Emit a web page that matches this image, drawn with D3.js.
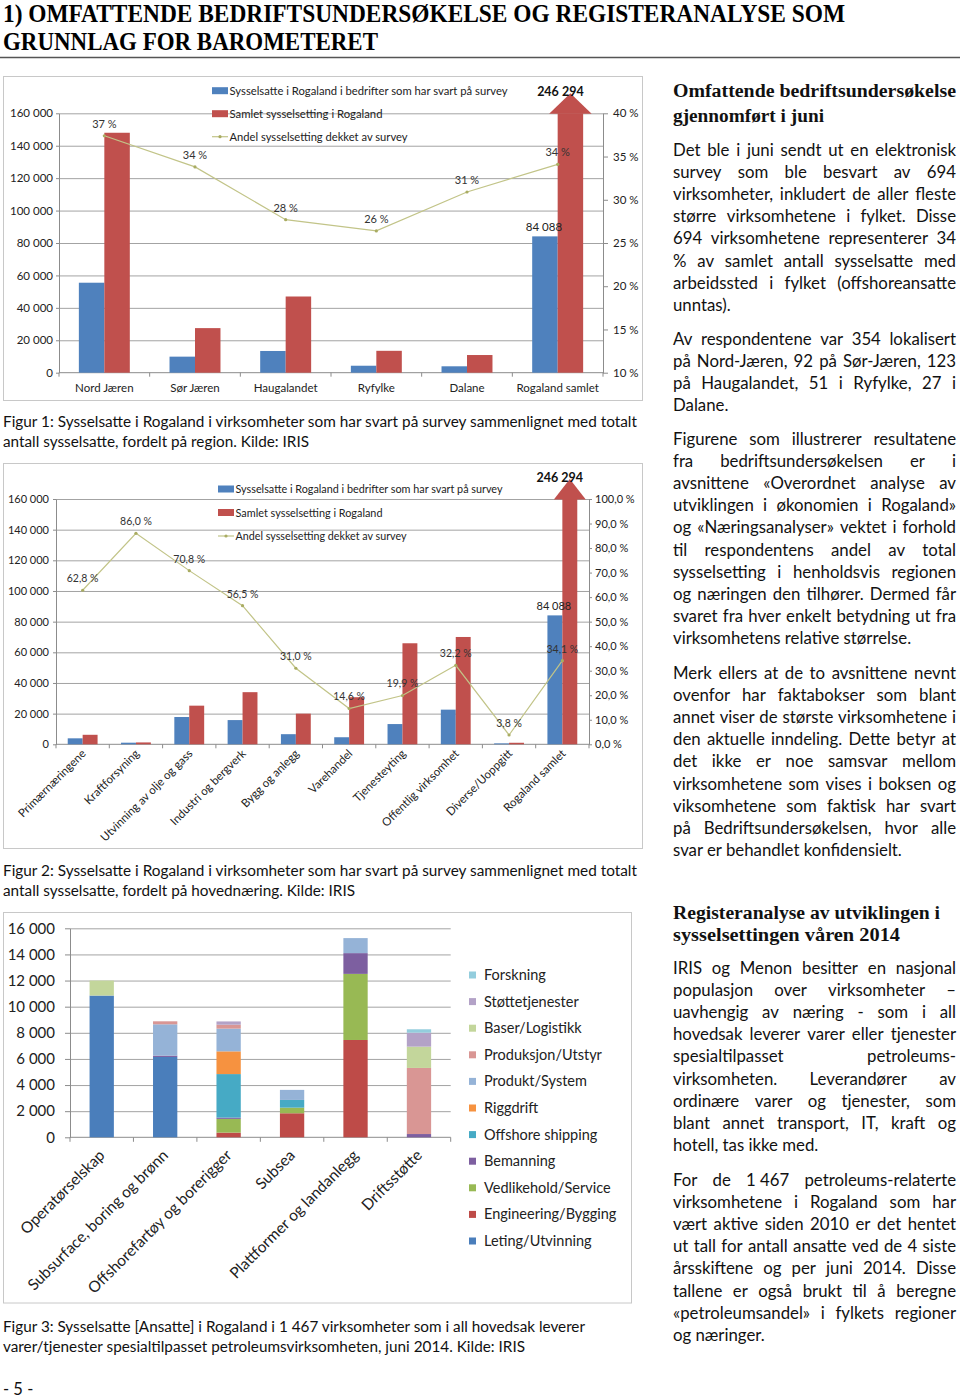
<!DOCTYPE html>
<html><head><meta charset="utf-8">
<script src="https://cdn.jsdelivr.net/npm/d3@7"></script>
<style>body{margin:0;background:#fff}svg{display:block}</style>
</head><body>
<script>
// ---------- DATA ----------
const regions = ["Nord Jæren","Sør Jæren","Haugalandet","Ryfylke","Dalane","Rogaland samlet"];
const regionSurvey = [55500, 9900, 13400, 4300, 3950, 84088];
const regionTotal = [148000, 27500, 47000, 13500, 10900, 246294];
const regionShare = [37.4, 33.8, 27.7, 26.4, 30.9, 34.1];
const regionShareLabels = ["37 %","34 %","28 %","26 %","31 %","34 %"];
const regionLeftTicks = [0,20000,40000,60000,80000,100000,120000,140000,160000];
const regionRightTicks = [10,15,20,25,30,35,40];

const industries = ["Primærnæringene","Kraftforsyning","Utvinning av olje og gass","Industri og bergverk","Bygg og anlegg","Varehandel","Tjenesteyting","Offentlig virksomhet","Diverse/Uoppgitt","Rogaland samlet"];
const industrySurvey = [3900, 1050, 17800, 15800, 6600, 4600, 13200, 22600, 600, 84088];
const industryTotal = [6200, 1220, 25200, 34000, 20000, 30700, 65900, 70000, 1000, 246294];
const industryShare = [62.8, 86.0, 70.8, 56.5, 31.0, 14.6, 19.9, 32.2, 3.8, 34.1];
const industryLeftTicks = [0,20000,40000,60000,80000,100000,120000,140000,160000];
const industryRightTicks = [0,10,20,30,40,50,60,70,80,90,100];

const legendNames = ["Sysselsatte i Rogaland i bedrifter som har svart på survey","Samlet sysselsetting i Rogaland","Andel sysselsetting dekket av survey"];

const petroCats = ["Operatørselskap","Subsurface, boring og brønn","Offshorefartøy og borerigger","Subsea","Plattformer og landanlegg","Driftsstøtte"];
const segments = ["Leting/Utvinning","Engineering/Bygging","Vedlikehold/Service","Bemanning","Offshore shipping","Riggdrift","Produkt/System","Produksjon/Utstyr","Baser/Logistikk","Støttetjenester","Forskning"];
const letingUtvinning    = [10850, 6150,    0,    0,    0,    0];
const engineeringBygging = [    0,    0,  360, 1840, 7450,    0];
const vedlikeholdService = [    0,    0, 1050,  430, 5060,    0];
const bemanning          = [    0,  100,  100,    0, 1590,  250];
const offshoreShipping   = [    0,    0, 3330,  590,    0,    0];
const riggdrift          = [    0,    0, 1740,    0,    0,    0];
const produktSystem      = [    0, 2400, 1740,  770, 1150,    0];
const produksjonUtstyr   = [    0,  230,  300,    0,    0, 5060];
const baserLogistikk     = [ 1150,    0,    0,    0,    0, 1630];
const stottetjenester    = [    0,    0,  250,    0,    0, 1070];
const forskning          = [    0,    0,    0,    0,    0,  260];
const petroTicks = [0,2000,4000,6000,8000,10000,12000,14000,16000];

// ---------- TEXT ----------
const headerLines = ["1) OMFATTENDE BEDRIFTSUNDERSØKELSE OG REGISTERANALYSE SOM","GRUNNLAG FOR BAROMETERET"];
const captions = [
  ["Figur 1: Sysselsatte i Rogaland i virksomheter som har svart på survey sammenlignet med totalt","antall sysselsatte, fordelt på region. Kilde: IRIS"],
  ["Figur 2: Sysselsatte i Rogaland i virksomheter som har svart på survey sammenlignet med totalt","antall sysselsatte, fordelt på hovednæring. Kilde: IRIS"],
  ["Figur 3: Sysselsatte [Ansatte] i Rogaland i 1\u00a0467 virksomheter som i all hovedsak leverer","varer/tjenester spesialtilpasset petroleumsvirksomheten, juni 2014. Kilde: IRIS"]
];
const heading1 = ["Omfattende bedriftsundersøkelse","gjennomført i juni"];
const heading2 = ["Registeranalyse av utviklingen i","sysselsettingen våren 2014"];
const para1 = ["Det ble i juni sendt ut en elektronisk","survey som ble besvart av 694","virksomheter, inkludert de aller fleste","større virksomhetene i fylket. Disse","694 virksomhetene representerer 34","% av samlet antall sysselsatte med","arbeidssted i fylket (offshoreansatte","unntas)."];
const para2 = ["Av respondentene var 354 lokalisert","på Nord-Jæren, 92 på Sør-Jæren, 123","på Haugalandet, 51 i Ryfylke, 27 i","Dalane."];
const para3 = ["Figurene som illustrerer resultatene","fra bedriftsundersøkelsen er i","avsnittene «Overordnet analyse av","utviklingen i økonomien i Rogaland»","og «Næringsanalyser» vektet i forhold","til respondentens andel av total","sysselsetting i henholdsvis regionen","og næringen den tilhører. Dermed får","svaret fra hver enkelt betydning ut fra","virksomhetens relative størrelse."];
const para4 = ["Merk ellers at de to avsnittene nevnt","ovenfor har faktabokser som blant","annet viser de største virksomhetene i","den aktuelle inndeling.  Dette betyr at","det ikke er noe samsvar mellom","virksomhetene som vises i boksen og","viksomhetene som faktisk har svart","på Bedriftsundersøkelsen, hvor alle","svar er behandlet konfidensielt."];
const para5 = ["IRIS og Menon besitter en nasjonal","populasjon over virksomheter –","uavhengig av næring - som i all","hovedsak leverer varer eller tjenester","spesialtilpasset petroleums-","virksomheten. Leverandører av","ordinære varer og tjenester, som","blant annet transport, IT, kraft og","hotell, tas ikke med."];
const para6 = ["For de 1\u00a0467 petroleums-relaterte","virksomhetene i Rogaland som har","vært aktive siden 2010 er det hentet","ut tall for antall ansatte ved de 4 siste","årsskiftene og per juni 2014. Disse","tallene er også brukt til å beregne","«petroleumsandel» i fylkets regioner","og næringer."];

// ---------- SETUP ----------
const FONT = "Lato, 'Open Sans', sans-serif";
const SERIF = "'Liberation Serif', 'DejaVu Serif', serif";
const BLUE = "#4f81bd", RED = "#c0504d", OLIVE = "#c2c488", GRID = "#8c8c8c";
const segColors = ["#4a7ebb","#be4b48","#98b954","#7d5fa0","#46aac5","#f69240","#95b3d7","#d99694","#c3d69b","#b3a2c7","#93cddd"];
const loc = d3.formatLocale({decimal:",", thousands:" ", grouping:[3], currency:["","kr"]});
const fmtInt = loc.format(",d");
const fmtPct1 = v => loc.format(".1f")(v) + " %";

const svg = d3.select("body").append("svg").attr("width",960).attr("height",1398);
svg.append("rect").attr("width",960).attr("height",1398).attr("fill","#fff");

function fitText(sel, w){ return sel.attr("textLength", w).attr("lengthAdjust","spacingAndGlyphs"); }

// ---------- HEADER ----------
fitText(svg.append("text").attr("x",3).attr("y",22).attr("font-family",SERIF).attr("font-weight","bold")
  .attr("font-size",25).text(headerLines[0]), 842);
fitText(svg.append("text").attr("x",3).attr("y",50).attr("font-family",SERIF).attr("font-weight","bold")
  .attr("font-size",25).text(headerLines[1]), 375);
svg.append("line").attr("x1",0).attr("x2",960).attr("y1",57.5).attr("y2",57.5).attr("stroke","#555").attr("stroke-width",1.5);

// ---------- RIGHT COLUMN TEXT ----------
const CX0 = 673, CX1 = 956, LH = 22.2, BODY = 16.8;
function para(lines, yc){
  lines.forEach((ln, i) => {
    const y = yc + i*LH + 5.5;
    const last = i === lines.length - 1;
    if (last) {
      svg.append("text").attr("x",CX0).attr("y",y).attr("font-family",FONT).attr("font-size",BODY).attr("fill","#111").text(ln);
      return;
    }
    const words = ln.split(/ +/);
    const g = svg.append("g");
    const ws = words.map(w => {
      const t = g.append("text").attr("y",y).attr("font-family",FONT).attr("font-size",BODY).attr("fill","#111").text(w);
      return {t, w: t.node().getComputedTextLength()};
    });
    const sum = d3.sum(ws, d => d.w);
    const gap = (CX1 - CX0 - sum) / (words.length - 1);
    if (gap < 3) {
      g.remove();
      fitText(svg.append("text").attr("x",CX0).attr("y",y).attr("font-family",FONT).attr("font-size",BODY).attr("fill","#111").text(ln), CX1-CX0);
    } else {
      let x = CX0;
      ws.forEach(d => { d.t.attr("x", x); x += d.w + gap; });
    }
  });
}
function heading(lines, ycs, widths){
  lines.forEach((ln,i)=>{
    fitText(svg.append("text").attr("x",CX0).attr("y",ycs[i]+5).attr("font-family",SERIF).attr("font-weight","bold")
      .attr("font-size",18).attr("fill","#111").text(ln), widths[i]);
  });
}
heading(heading1,[92,117],[283,151]);
para(para1,150); para(para2,339); para(para3,439); para(para4,673);
heading(heading2,[914,936],[267,227]);
para(para5,968); para(para6,1180);

// ---------- CAPTIONS ----------
function caption(lines, yc, widths){
  lines.forEach((ln,i)=>{
    fitText(svg.append("text").attr("x",3).attr("y",yc+i*19.5+5).attr("font-family",FONT).attr("font-size",15.5).attr("fill","#111").text(ln), widths[i]);
  });
}
caption(captions[0],422,[634,306]);
caption(captions[1],871,[634,352]);
caption(captions[2],1327,[582,522]);
svg.append("text").attr("x",3).attr("y",1395).attr("font-family",FONT).attr("font-size",16.5).attr("fill","#111").text("- 5 -");

// ---------- COMBO CHART (fig 1 & 2) ----------
function combo(cfg){
  const {cats, survey, total, share, shareLabels, leftTicks, rightTicks, L, R, T, B, rightDomain, box, barFrac, fs, rotate, legend, rightFmt, padL, padR} = cfg;
  const g = svg.append("g");
  g.append("rect").attr("x",box[0]+.5).attr("y",box[1]+.5).attr("width",box[2]).attr("height",box[3]).attr("fill","#fff").attr("stroke","#c8c8c8");
  const x = d3.scaleBand().domain(cats).range([L,R]);
  const y = d3.scaleLinear().domain([0, d3.max(leftTicks)]).range([B,T]);
  const yr = d3.scaleLinear().domain(rightDomain).range([B,T]);
  g.append("g").attr("transform",`translate(${L},0)`)
    .call(d3.axisLeft(y).tickValues(leftTicks.slice(1)).tickSize(-(R-L)).tickFormat(""))
    .call(a=>{a.select(".domain").remove(); a.selectAll("line").attr("stroke",GRID).attr("stroke-width",0.8);});
  g.append("g").attr("transform",`translate(${L},0)`)
    .call(d3.axisLeft(y).tickValues(leftTicks).tickSize(3).tickSizeOuter(0).tickPadding(padL).tickFormat(fmtInt))
    .call(a=>{a.select(".domain").attr("stroke",GRID); a.selectAll("line").attr("stroke",GRID);
      a.selectAll("text").attr("font-family",FONT).attr("font-size",fs).attr("fill","#222");});
  g.append("g").attr("transform",`translate(${R},0)`)
    .call(d3.axisRight(yr).tickValues(rightTicks).tickSize(cfg.rTick).tickSizeOuter(0).tickPadding(padR).tickFormat(rightFmt))
    .call(a=>{a.select(".domain").attr("stroke",GRID); a.selectAll("line").attr("stroke",GRID);
      a.selectAll("text").attr("font-family",FONT).attr("font-size",fs).attr("fill","#222");});
  g.append("line").attr("x1",L).attr("x2",R).attr("y1",B).attr("y2",B).attr("stroke",GRID);
  g.selectAll(".xt").data(cats.map(c=>x(c)).concat([R])).join("line")
    .attr("x1",d=>d).attr("x2",d=>d).attr("y1",B).attr("y2",B+4).attr("stroke",GRID);
  const bw = x.bandwidth()*barFrac;
  const cx = c => x(c) + x.bandwidth()/2;
  const ymax = d3.max(leftTicks);
  g.selectAll(".bs").data(cats).join("rect").attr("fill",BLUE)
    .attr("x",c=>cx(c)-bw).attr("width",bw)
    .attr("y",(c,i)=>y(survey[i])).attr("height",(c,i)=>B-y(survey[i]));
  g.selectAll(".bt").data(cats).join("rect").attr("fill",RED)
    .attr("x",c=>cx(c)).attr("width",bw)
    .attr("y",(c,i)=>y(Math.min(total[i],ymax))).attr("height",(c,i)=>B-y(Math.min(total[i],ymax)));
  cats.forEach((c,i)=>{
    if (total[i] > ymax) {
      const mc = cx(c)+bw/2, hw = bw/2 + 8.5, top = y(ymax);
      g.append("path").attr("fill",RED).attr("d",`M${mc-hw},${top+0.5}L${mc+hw},${top+0.5}L${mc},${top-20}Z`);
      g.append("text").attr("x",mc-10).attr("y",top-17).attr("text-anchor","middle").attr("font-family",FONT)
        .attr("font-weight","bold").attr("font-size",12.5).attr("fill","#111").text(fmtInt(total[i]));
      g.append("text").attr("x",cx(c)-bw/2-1).attr("y",y(survey[i])-5.5).attr("text-anchor","middle").attr("font-family",FONT)
        .attr("font-size",fs).attr("fill","#222").text(fmtInt(survey[i]));
    }
  });
  const line = d3.line().x((d,i)=>cx(cats[i])).y(d=>yr(d));
  g.append("path").datum(share).attr("d",line).attr("fill","none").attr("stroke",OLIVE).attr("stroke-width",1.2);
  g.selectAll(".mk").data(share).join("circle").attr("cx",(d,i)=>cx(cats[i])).attr("cy",d=>yr(d)).attr("r",1.6).attr("fill","#a9ac62");
  g.selectAll(".lb").data(share).join("text").attr("x",(d,i)=>cx(cats[i])).attr("y",d=>yr(d)-8)
    .attr("text-anchor","middle").attr("font-family",FONT).attr("font-size",fs-0.5).attr("fill","#333")
    .text((d,i)=>shareLabels[i]);
  if (rotate) {
    g.selectAll(".cl").data(cats).join("text")
      .attr("transform",c=>`translate(${cx(c)+4},${B+10}) rotate(-45)`).attr("text-anchor","end")
      .attr("font-family",FONT).attr("font-size",fs+0.5).attr("fill","#222").text(c=>c);
  } else {
    g.selectAll(".cl").data(cats).join("text").attr("x",cx).attr("y",B+19.5).attr("text-anchor","middle")
      .attr("font-family",FONT).attr("font-size",fs).attr("fill","#222").text(c=>c);
  }
  const [lx, ly, lstep, lw] = legend;
  legendNames.forEach((n,i)=>{
    const yy = ly + i*lstep;
    if (i < 2) g.append("rect").attr("x",lx).attr("y",yy-3.5).attr("width",16).attr("height",7).attr("fill",i?RED:BLUE);
    else {
      g.append("line").attr("x1",lx).attr("x2",lx+16).attr("y1",yy).attr("y2",yy).attr("stroke",OLIVE).attr("stroke-width",1.2);
      g.append("circle").attr("cx",lx+8).attr("cy",yy).attr("r",1.6).attr("fill","#a9ac62");
    }
    fitText(g.append("text").attr("x",lx+17.5).attr("y",yy+4).attr("font-family",FONT).attr("font-size",fs-0.5).attr("fill","#222").text(n), lw[i]);
  });
}

combo({cats:regions, survey:regionSurvey, total:regionTotal, share:regionShare, shareLabels:regionShareLabels,
  leftTicks:regionLeftTicks, rightTicks:regionRightTicks, L:59, R:603, T:113.3, B:372.7, rightDomain:[10,40],
  box:[3,76,639,324], barFrac:0.281, fs:11.5, rotate:false, legend:[212,90.7,23,[278,153,178]],
  rightFmt:d=>d+" %", padL:3, padR:5, rTick:5});

combo({cats:industries, survey:industrySurvey, total:industryTotal, share:industryShare,
  shareLabels:industryShare.map(fmtPct1),
  leftTicks:industryLeftTicks, rightTicks:industryRightTicks, L:56, R:589, T:499, B:744.3, rightDomain:[0,100],
  box:[3,463,639,385], barFrac:0.28, fs:11, rotate:true, legend:[218,489,23.5,[267,147,171]],
  rightFmt:d=>fmtPct1(d), padL:4, padR:3, rTick:3});

// ---------- STACKED CHART (fig 3) ----------
(function(){
  const L=70, R=450.7, T=928.3, B=1137.3, fs=14.5;
  const g = svg.append("g");
  g.append("rect").attr("x",3.5).attr("y",912.5).attr("width",628).attr("height",390.5).attr("fill","#fff").attr("stroke","#c8c8c8");
  const series = [letingUtvinning, engineeringBygging, vedlikeholdService, bemanning, offshoreShipping, riggdrift,
    produktSystem, produksjonUtstyr, baserLogistikk, stottetjenester, forskning];
  const rows = petroCats.map((c,i)=>{ const r={cat:c}; segments.forEach((s,k)=>r[s]=series[k][i]); return r; });
  const stack = d3.stack().keys(segments)(rows);
  const x = d3.scaleBand().domain(petroCats).range([L,R]);
  const y = d3.scaleLinear().domain([0,16000]).range([B,T]);
  g.append("g").attr("transform",`translate(${L},0)`)
    .call(d3.axisLeft(y).tickValues(petroTicks.slice(1)).tickSize(-(R-L)).tickFormat(""))
    .call(a=>{a.select(".domain").remove(); a.selectAll("line").attr("stroke",GRID).attr("stroke-width",0.8);});
  g.append("g").attr("transform",`translate(${L},0)`)
    .call(d3.axisLeft(y).tickValues(petroTicks).tickSize(5).tickSizeOuter(0).tickPadding(10).tickFormat(fmtInt))
    .call(a=>{a.select(".domain").attr("stroke",GRID); a.selectAll("line").attr("stroke",GRID);
      a.selectAll("text").attr("font-family",FONT).attr("font-size",fs+0.5).attr("fill","#222");});
  g.append("line").attr("x1",L).attr("x2",R).attr("y1",B).attr("y2",B).attr("stroke",GRID);
  g.selectAll(".xt").data(petroCats.map(c=>x(c)).concat([R])).join("line")
    .attr("x1",d=>d).attr("x2",d=>d).attr("y1",B).attr("y2",B+4.5).attr("stroke",GRID);
  const bw = x.bandwidth()*0.383;
  stack.forEach((s,k)=>{
    g.selectAll(null).data(s).join("rect").attr("fill",segColors[k])
      .attr("x",d=>x(d.data.cat)+x.bandwidth()/2-bw/2).attr("width",bw)
      .attr("y",d=>y(d[1])).attr("height",d=>y(d[0])-y(d[1]));
  });
  g.selectAll(".cl").data(petroCats).join("text")
    .attr("transform",c=>`translate(${x(c)+x.bandwidth()/2+4},${B+19}) rotate(-45)`).attr("text-anchor","end")
    .attr("font-family",FONT).attr("font-size",15.5).attr("fill","#222").text(c=>c);
  const legendOrder = segments.slice().reverse();
  legendOrder.forEach((n,i)=>{
    const yy = 975 + i*26.6;
    const k = segments.indexOf(n);
    g.append("rect").attr("x",469).attr("y",yy-3.5).attr("width",7).attr("height",7).attr("fill",segColors[k]);
    g.append("text").attr("x",484).attr("y",yy+5).attr("font-family",FONT).attr("font-size",fs).attr("fill","#222").text(n);
  });
})();
</script>
</body></html>
